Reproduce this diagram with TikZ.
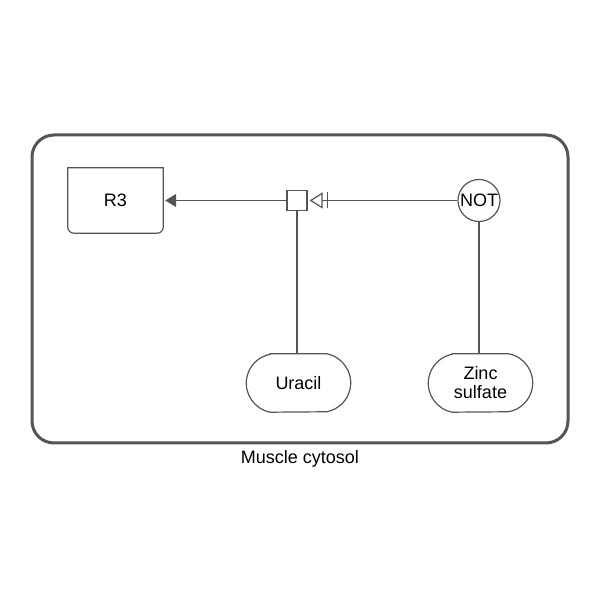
\documentclass[tikz,border=0pt]{standalone}
\usepackage{fontspec}
\setmainfont{Liberation Sans}
\usetikzlibrary{arrows.meta}
\definecolor{lc}{RGB}{85,85,85}
\begin{document}
\begin{tikzpicture}[x=1pt,y=1pt,
  lab/.style={font=\fontsize{18}{19}\selectfont, text=black},
  edge/.style={draw=lc, line width=1.2pt},
  chem/.style={lab, minimum width=104pt, minimum height=58pt, inner sep=0pt, align=center},
  chemline/.style={draw=lc, line width=1.2pt},
]
\useasboundingbox (0,0) rectangle (600,600);
% compartment
\draw[lc, line width=3pt, rounded corners=22pt] (32,157) rectangle (568,465);
\node[lab] (comp) at (300,141) {Muscle cytosol};
% R3 nucleic acid feature
\node[lab, minimum width=95pt, minimum height=65pt, inner sep=0pt] (r3) at (115.5,399.5) {R3};
\draw[lc, line width=1.2pt] (r3.north west) -- (r3.north east) -- ([yshift=6pt]r3.south east) arc(0:-90:6pt) -- ([xshift=6pt]r3.south west) arc(270:180:6pt) -- cycle;
% process
\node[draw=lc, line width=1.2pt, minimum size=20pt, inner sep=0pt] (proc) at (297,399.5) {};
% NOT
\node[lab, circle, draw=lc, line width=1.2pt, minimum size=42pt, inner sep=0pt] (not) at (479,399.5) {NOT};
% chemicals
\node[chem] (ura) at (298.5,217) {Uracil};
\draw[chemline] ([xshift=24pt]ura.north west) -- ([xshift=-24pt]ura.north east)
  arc[start angle=79.3,end angle=-79.3,radius=29.5pt]
  -- ([xshift=24pt]ura.south west)
  arc[start angle=259.3,end angle=100.7,radius=29.5pt] -- cycle;
\node[chem] (zinc) at (480.5,217) {Zinc\\sulfate};
\draw[chemline] ([xshift=24pt]zinc.north west) -- ([xshift=-24pt]zinc.north east)
  arc[start angle=79.3,end angle=-79.3,radius=29.5pt]
  -- ([xshift=24pt]zinc.south west)
  arc[start angle=259.3,end angle=100.7,radius=29.5pt] -- cycle;
% connectors
\draw[edge, -{Triangle[length=11pt,width=13pt,fill=lc]}, shorten >=2pt] (proc.west) -- (r3.east);
\draw[edge, -{Bar[width=16pt,sep=4pt] Triangle[open,length=13pt,width=16pt,fill=white]}, shorten >=2pt] (not.west) -- (proc.east);
\draw[edge] (proc.south) -- (proc.south |- ura.north);
\draw[edge] (not.south) -- (not.south |- zinc.north);
\end{tikzpicture}
\end{document}
